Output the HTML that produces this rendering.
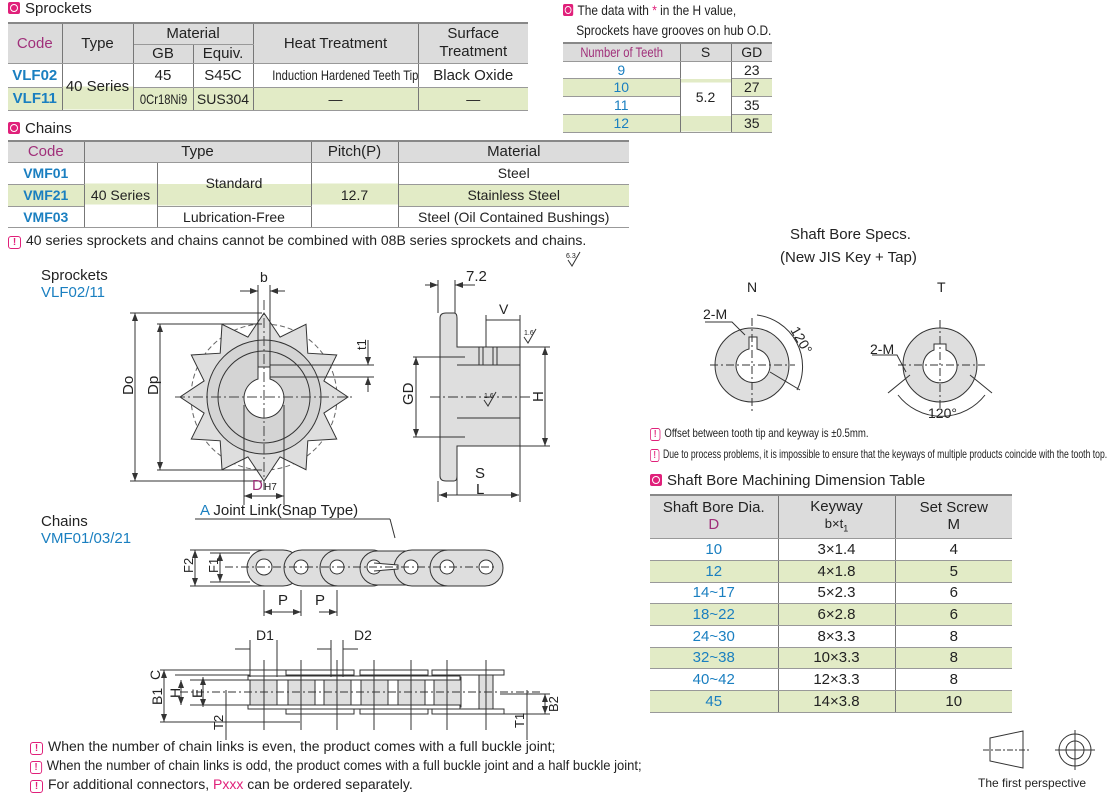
<!DOCTYPE html>
<html><head><meta charset="utf-8"><style>
body{margin:0;width:1110px;height:795px;background:#fff;position:relative;overflow:hidden;font-family:"Liberation Sans",sans-serif;color:#222}
.a{position:absolute;white-space:nowrap}
table{position:absolute;border-collapse:collapse;font-size:14px;text-align:center;table-layout:fixed}
td{padding:0;border-left:1px solid #777;border-right:1px solid #777;line-height:1;white-space:nowrap;overflow:visible}
tr.h td{background:#dcdcdc}
tr.g td{background:#e2ebc6}
tr td{border-bottom:1px solid #999}
table{border-top:2px solid #888}
td:first-child{border-left:none}td:last-child{border-right:none}
.c{color:#1a7fc0;font-weight:bold}.b{color:#1a7fc0}.p{color:#a0307a}
.ic{display:inline-block;width:12px;height:12px;background:#e0207a;border-radius:2px;position:relative;vertical-align:-1px;margin-right:5px}
.ic:after{content:"";position:absolute;left:2px;top:2px;width:6px;height:6px;border:1px solid #fff;border-radius:50%}
.ex{display:inline-block;width:11px;height:11px;border:1.5px solid #e0207a;border-radius:3px;color:#e0207a;font-size:10px;line-height:11px;text-align:center;font-weight:bold;margin-right:5px;vertical-align:0}
.sq{display:inline-block;transform:scaleX(.8);transform-origin:center}
.sl{transform:scaleX(.8);transform-origin:left top}
</style></head><body>
<div class="a" style="left:8px;top:0;font-size:15px"><span class="ic"></span>Sprockets</div>
<table style="left:8px;top:22px;width:520px">
<colgroup><col style="width:54px"><col style="width:71px"><col style="width:60px"><col style="width:60px"><col style="width:165px"><col style="width:110px"></colgroup>
<tr class="h" style="height:21px"><td rowspan="2" class="p" style="font-size:15px">Code</td><td rowspan="2" style="font-size:15px">Type</td><td colspan="2" style="font-size:15px">Material</td><td rowspan="2" style="font-size:15px">Heat Treatment</td><td rowspan="2" style="font-size:15px;line-height:1.2">Surface<br>Treatment</td></tr>
<tr class="h" style="height:19px"><td style="font-size:15px">GB</td><td style="font-size:15px">Equiv.</td></tr>
<tr style="height:24px"><td class="c" style="font-size:15px">VLF02</td><td rowspan="2" style="background:linear-gradient(#fff 50%,#e2ebc6 50%);font-size:15px">40 Series</td><td style="font-size:15px">45</td><td style="font-size:15px">S45C</td><td style="font-size:14px"><span class="sq">Induction Hardened Teeth Tip</span></td><td style="font-size:15px">Black Oxide</td></tr>
<tr class="g" style="height:23px"><td class="c" style="font-size:15px">VLF11</td><td style="font-size:14px"><span class="sq">0Cr18Ni9</span></td><td style="font-size:14px">SUS304</td><td>—</td><td>—</td></tr>
</table>
<div class="a" style="left:8px;top:120px;font-size:15px"><span class="ic"></span>Chains</div>
<table style="left:8px;top:140px;width:621px">
<colgroup><col style="width:76px"><col style="width:73px"><col style="width:154px"><col style="width:87px"><col style="width:231px"></colgroup>
<tr class="h" style="height:21px"><td class="p" style="font-size:15px">Code</td><td colspan="2" style="font-size:15px">Type</td><td style="font-size:15px">Pitch(P)</td><td style="font-size:15px">Material</td></tr>
<tr style="height:22px"><td class="c">VMF01</td><td rowspan="3" style="background:linear-gradient(#fff 33%,#e2ebc6 33%,#e2ebc6 66%,#fff 66%)">40 Series</td><td rowspan="2" style="background:linear-gradient(#fff 50%,#e2ebc6 50%);vertical-align:middle;padding-bottom:2px">Standard</td><td rowspan="3" style="background:linear-gradient(#fff 33%,#e2ebc6 33%,#e2ebc6 66%,#fff 66%)">12.7</td><td>Steel</td></tr>
<tr class="g" style="height:22px"><td class="c">VMF21</td><td>Stainless Steel</td></tr>
<tr style="height:21px"><td class="c">VMF03</td><td>Lubrication-Free</td><td>Steel (Oil Contained Bushings)</td></tr>
</table>
<div class="a" style="left:8px;top:232px;font-size:14px"><span class="ex">!</span>40 series sprockets and chains cannot be combined with 08B series sprockets and chains.</div>

<div class="a" style="left:563px;top:0;font-size:14px;line-height:20px;transform:scaleX(.85);transform-origin:left top"><span class="ic"></span>The data with <span style="color:#e0207a">*</span> in the H value,<br>&nbsp;&nbsp;&nbsp;&nbsp;Sprockets have grooves on hub O.D.</div>
<table style="left:563px;top:42px;width:209px;font-size:14px">
<colgroup><col style="width:117px"><col style="width:51px"><col style="width:41px"></colgroup>
<tr class="h" style="height:18px"><td class="p" style="font-size:14px"><span class="sq">Number of Teeth</span></td><td>S</td><td>GD</td></tr>
<tr style="height:17px"><td class="b">9</td><td rowspan="4" style="background:linear-gradient(#fff 25%,#e2ebc6 25%,#e2ebc6 30%,#fff 30%,#fff 78%,#e2ebc6 78%)">5.2</td><td>23</td></tr>
<tr class="g" style="height:18px"><td class="b">10</td><td>27</td></tr>
<tr style="height:18px"><td class="b">11</td><td>35</td></tr>
<tr class="g" style="height:18px"><td class="b">12</td><td>35</td></tr>
</table>

<div class="a" style="left:780px;top:223px;font-size:15px;text-align:center;line-height:23px">&nbsp;Shaft Bore Specs.<br>(New JIS Key + Tap)</div>
<div class="a" style="left:747px;top:279px;font-size:14px">N</div>
<div class="a" style="left:937px;top:279px;font-size:14px">T</div>
<div class="a sl" style="left:650px;top:426px;font-size:12px"><span class="ex">!</span>Offset between tooth tip and keyway is ±0.5mm.</div>
<div class="a" style="left:650px;top:447px;font-size:12px;transform:scaleX(.72);transform-origin:left top"><span class="ex">!</span>Due to process problems, it is impossible to ensure that the keyways of multiple products coincide with the tooth top.</div>
<div class="a" style="left:650px;top:472px;font-size:15px"><span class="ic"></span>Shaft Bore Machining Dimension Table</div>
<table style="left:650px;top:494px;width:362px;font-size:15px">
<colgroup><col style="width:128px"><col style="width:117px"><col style="width:117px"></colgroup>
<tr class="h" style="height:43px"><td style="line-height:1.1">Shaft Bore Dia.<br><span class="p">D</span></td><td style="line-height:1.1">Keyway<br><span style="font-size:13px">b×t<sub style="font-size:9px">1</sub></span></td><td style="line-height:1.1">Set Screw<br>M</td></tr>
<tr style="height:22px"><td class="b">10</td><td>3×1.4</td><td>4</td></tr>
<tr class="g" style="height:22px"><td class="b">12</td><td>4×1.8</td><td>5</td></tr>
<tr style="height:21px"><td class="b">14~17</td><td>5×2.3</td><td>6</td></tr>
<tr class="g" style="height:22px"><td class="b">18~22</td><td>6×2.8</td><td>6</td></tr>
<tr style="height:22px"><td class="b">24~30</td><td>8×3.3</td><td>8</td></tr>
<tr class="g" style="height:21px"><td class="b">32~38</td><td>10×3.3</td><td>8</td></tr>
<tr style="height:22px"><td class="b">40~42</td><td>12×3.3</td><td>8</td></tr>
<tr class="g" style="height:22px"><td class="b">45</td><td>14×3.8</td><td>10</td></tr>
</table>

<div class="a" style="left:41px;top:267px;font-size:15px;line-height:17px">Sprockets<br><span class="b">VLF02/11</span></div>
<div class="a" style="left:41px;top:513px;font-size:15px;line-height:17px">Chains<br><span class="b">VMF01/03/21</span></div>
<div class="a" style="left:200px;top:502px;font-size:15px"><span class="b">A</span> Joint Link(Snap Type)</div>

<svg class="a" style="left:0;top:0" width="1110" height="795" font-family="Liberation Sans,sans-serif" fill="none" stroke="#333" stroke-width="1">
<defs><marker id="ar" markerWidth="8" markerHeight="6" refX="8" refY="3" orient="auto"><path d="M0,0 8,3 0,6z" fill="#333" stroke="none"/></marker></defs>
<circle cx="264" cy="397" r="73" stroke-dasharray="5,3" stroke="#666"/>
<polygon fill="#dedede" points="348,397 323.9,380.9 336.7,355 307.8,353.2 306,324.3 280.1,337.1 264,313 247.9,337.1 222,324.3 220.2,353.2 191.3,355 204.1,380.9 180,397 204.1,413.1 191.3,439 220.2,440.8 222,469.7 247.9,456.9 264,481 280.1,456.9 306,469.7 307.8,440.8 336.7,439 323.9,413.1"/>
<circle cx="264" cy="397" r="57" fill="#d4d4d4"/>
<circle cx="264" cy="397" r="46"/>
<path d="M258,367 v12 a20,20 0 1 0 12,0 v-12z" fill="#fff"/>
<path d="M175,397 H355 M264,300 V490" stroke-dasharray="10,3,2,3" stroke="#444"/>
<path d="M258,285 V367 M270,285 V367"/>
<path d="M240,291 H258" marker-end="url(#ar)"/><path d="M285,291 H270" marker-end="url(#ar)"/>
<text x="260" y="282" fill="#222" stroke="none" font-size="14">b</text>
<path d="M130,313 H262 M157,324 H262 M270,365 H374 M270,377 H374"/>
<path d="M135,397 V313" marker-end="url(#ar)"/><path d="M135,397 V481" marker-end="url(#ar)"/>
<path d="M130,481 H262 M157,470 H262"/>
<path d="M160,397 V324" marker-end="url(#ar)"/><path d="M160,397 V470" marker-end="url(#ar)"/>
<path d="M368,340 V365" marker-end="url(#ar)"/><path d="M368,392 V377" marker-end="url(#ar)"/>
<text transform="translate(133,395) rotate(-90)" fill="#222" stroke="none" font-size="15">Do</text>
<text transform="translate(158,395) rotate(-90)" fill="#222" stroke="none" font-size="15">Dp</text>
<text transform="translate(366,350) rotate(-90)" fill="#222" stroke="none" font-size="13">t1</text>
<path d="M244,405 V505 M284,405 V505"/>
<path d="M264,496 H244" marker-end="url(#ar)"/><path d="M264,496 H284" marker-end="url(#ar)"/>
<text x="252" y="490" fill="#a0307a" stroke="none" font-size="15">D</text><text x="264" y="490" fill="#222" stroke="none" font-size="10">H7</text>
<path d="M440,318 q0,-5 6,-5 h8 q3,0 3,5 V347 H520 V446 H457 V476 q0,5 -3,5 h-8 q-6,0 -6,-5z" fill="#dedede"/>
<path d="M457,365 H520 M457,418 H520 M479,347 V365 M483,347 V365 M493,347 V365 M497,347 V365 M440,347 V446"/>
<path d="M430,397 H530" stroke-dasharray="10,3,2,3"/>
<path d="M413,357 H465 M413,437 H465"/><path d="M416,397 V357" marker-end="url(#ar)"/><path d="M416,397 V437" marker-end="url(#ar)"/>
<text transform="translate(413,405) rotate(-90)" fill="#222" stroke="none" font-size="15">GD</text>
<path d="M520,347 H550 M520,446 H550"/><path d="M545,397 V347" marker-end="url(#ar)"/><path d="M545,397 V446" marker-end="url(#ar)"/>
<text transform="translate(543,402) rotate(-90)" fill="#222" stroke="none" font-size="15">H</text>
<path d="M438,280 V313 M455,280 V313"/><path d="M425,285 H438" marker-end="url(#ar)"/><path d="M475,285 H455" marker-end="url(#ar)"/>
<text x="466" y="281" fill="#222" stroke="none" font-size="15">7.2</text>
<path d="M486,315 V347 M520,315 V347"/><path d="M486,320 H520"/><text x="499" y="314" fill="#222" stroke="none" font-size="14">V</text>
<path d="M438,481 V502 M520,446 V502 M457,470 V495"/>
<path d="M440,495 H519" marker-end="url(#ar)"/><path d="M479,495 H439" marker-end="url(#ar)"/>
<text x="475" y="478" fill="#222" stroke="none" font-size="15">S</text><text x="476" y="494" fill="#222" stroke="none" font-size="15">L</text>
<text x="524" y="335" fill="#222" stroke="none" font-size="7">1.6</text><path d="M524,337 l4,6 l8,-14"/>
<text x="484" y="398" fill="#222" stroke="none" font-size="7">1.6</text><path d="M484,400 l4,6 l8,-14"/>
<text x="566" y="258" fill="#222" stroke="none" font-size="7">6.3</text><path d="M568,260 l4,6 l8,-14"/>
<line x1="195" y1="519" x2="390" y2="519"/><path d="M390,519 L395,538"/>
<g fill="#dedede">
<rect x="247" y="550" width="54" height="36" rx="18"/>
<rect x="284" y="550" width="70" height="36" rx="18"/>
<rect x="320" y="550" width="70" height="36" rx="18"/>
<rect x="360" y="551" width="70" height="34" rx="17"/>
<rect x="394" y="550" width="70" height="36" rx="18"/>
<rect x="430" y="550" width="73" height="36" rx="18"/>
</g>
<g fill="#fff"><circle cx="264" cy="567" r="8"/><circle cx="301" cy="567" r="7"/><circle cx="337" cy="567" r="7"/><circle cx="374" cy="567" r="7"/><circle cx="411" cy="567" r="7"/><circle cx="447" cy="567" r="7"/><circle cx="486" cy="567" r="7"/></g>
<path d="M374,563 L398,565 L398,569 L374,571" fill="#fff"/>
<path d="M225,567 H495" stroke-dasharray="8,3,2,3"/>
<path d="M190,550 H265 M190,586 H265"/><path d="M195,567 V550" marker-end="url(#ar)"/><path d="M195,567 V586" marker-end="url(#ar)"/>
<path d="M210,553 H250 M210,582 H250"/><path d="M220,567 V553" marker-end="url(#ar)"/><path d="M220,567 V582" marker-end="url(#ar)"/>
<text transform="translate(193,573) rotate(-90)" fill="#222" stroke="none" font-size="13">F2</text>
<text transform="translate(218,573) rotate(-90)" fill="#222" stroke="none" font-size="13">F1</text>
<path d="M264,590 V616 M301,590 V616 M337,590 V616"/><path d="M282,612 H264" marker-end="url(#ar)"/><path d="M282,612 H301" marker-end="url(#ar)"/><path d="M319,612 H337" marker-end="url(#ar)"/>
<text x="278" y="605" fill="#222" stroke="none" font-size="15">P</text><text x="315" y="605" fill="#222" stroke="none" font-size="15">P</text>
<g fill="#dedede">
<rect x="250" y="677" width="27" height="30"/><rect x="288" y="677" width="27" height="30"/><rect x="324" y="677" width="27" height="30"/><rect x="361" y="677" width="27" height="30"/><rect x="398" y="677" width="27" height="30"/><rect x="434" y="677" width="27" height="30"/>
<rect x="479" y="675" width="14" height="36"/>
</g>
<g fill="#fff">
<rect x="248" y="676" width="212" height="4"/><rect x="248" y="705" width="212" height="4"/>
<rect x="286" y="670" width="68" height="5"/><rect x="286" y="709" width="68" height="5"/>
<rect x="360" y="670" width="68" height="5"/><rect x="360" y="709" width="68" height="5"/>
<rect x="432" y="670" width="72" height="5"/><rect x="432" y="709" width="72" height="5"/>
</g>
<path d="M264,660 V730 M301,660 V730 M337,660 V730 M374,660 V730 M411,660 V730 M447,660 V730 M486,660 V730"/>
<path d="M180,692 H540" stroke-dasharray="8,3,2,3"/>
<path d="M160,670 H290 M160,722 H300 M175,675 H250 M190,680 H250 M190,705 H250"/>
<path d="M164,692 V670" marker-end="url(#ar)"/><path d="M164,692 V722" marker-end="url(#ar)"/>
<path d="M181,692 V680" marker-end="url(#ar)"/><path d="M181,692 V705" marker-end="url(#ar)"/>
<path d="M203,692 V677" marker-end="url(#ar)"/><path d="M203,692 V707" marker-end="url(#ar)"/>
<text transform="translate(162,705) rotate(-90)" fill="#222" stroke="none" font-size="14">B1</text>
<text transform="translate(160,680) rotate(-90)" fill="#222" stroke="none" font-size="14">C</text>
<text transform="translate(180,698) rotate(-90)" fill="#222" stroke="none" font-size="14">H</text>
<text transform="translate(202,698) rotate(-90)" fill="#222" stroke="none" font-size="14">E</text>
<path d="M235,649 H250 M250,640 V677 M277,640 V677 M317,649 H331 M331,640 V677 M343,640 V677 M358,649 H343"/>
<text x="256" y="640" fill="#222" stroke="none" font-size="14">D1</text><text x="354" y="640" fill="#222" stroke="none" font-size="14">D2</text>
<text transform="translate(223,730) rotate(-90)" fill="#222" stroke="none" font-size="13">T2</text><path d="M226,690 V740"/>
<path d="M500,694 H550 M500,714 H550"/><path d="M545,704 V694" marker-end="url(#ar)"/><path d="M545,704 V714" marker-end="url(#ar)"/>
<text transform="translate(558,712) rotate(-90)" fill="#222" stroke="none" font-size="13">B2</text>
<text transform="translate(524,728) rotate(-90)" fill="#222" stroke="none" font-size="13">T1</text><path d="M527,690 V740"/>
<circle cx="752" cy="365" r="37" fill="#dedede"/>
<path d="M749,337 v12 a17,17 0 1 0 8,0 v-12z" fill="#fff"/>
<path d="M710,365 H795 M752,318 V412" stroke-dasharray="8,3,2,3"/>
<path d="M705,322 H732 L745,335"/><text x="703" y="319" fill="#222" stroke="none" font-size="14">2-M</text>
<path d="M757,315 A52,52 0 0 1 797,390"/><text transform="translate(790,330) rotate(60)" fill="#222" stroke="none" font-size="14">120°</text>
<path d="M770,372 L800,390"/>
<circle cx="940" cy="365" r="37" fill="#dedede"/>
<path d="M934,344 h12 v6 a17,17 0 1 1 -12,0z" fill="#fff"/>
<path d="M898,365 H985 M940,320 V410" stroke-dasharray="8,3,2,3"/>
<path d="M872,355 H897 L906,372"/><text x="870" y="354" fill="#222" stroke="none" font-size="14">2-M</text>
<path d="M898,395 A55,55 0 0 0 985,395"/><path d="M910,375 L888,393 M970,375 L992,393"/>
<text x="928" y="418" fill="#222" stroke="none" font-size="14">120°</text>
<path d="M990,738 L1023,731 V768 L990,761z"/><path d="M983,750 H1030" stroke-dasharray="6,2,2,2"/>
<circle cx="1075" cy="750" r="16"/><circle cx="1075" cy="750" r="9"/><path d="M1055,750 H1095 M1075,730 V770"/>
</svg>
<div class="a" style="left:978px;top:776px;font-size:12px">The first perspective</div>
<div class="a" style="left:30px;top:738px;font-size:14px"><span class="ex">!</span>When the number of chain links is even, the product comes with a full buckle joint;</div>
<div class="a" style="left:30px;top:757px;font-size:14px;transform:scaleX(.93);transform-origin:left top"><span class="ex">!</span>When the number of chain links is odd, the product comes with a full buckle joint and a half buckle joint;</div>
<div class="a" style="left:30px;top:776px;font-size:14px"><span class="ex">!</span>For additional connectors, <span style="color:#e0207a">Pxxx</span> can be ordered separately.</div>
</body></html>
